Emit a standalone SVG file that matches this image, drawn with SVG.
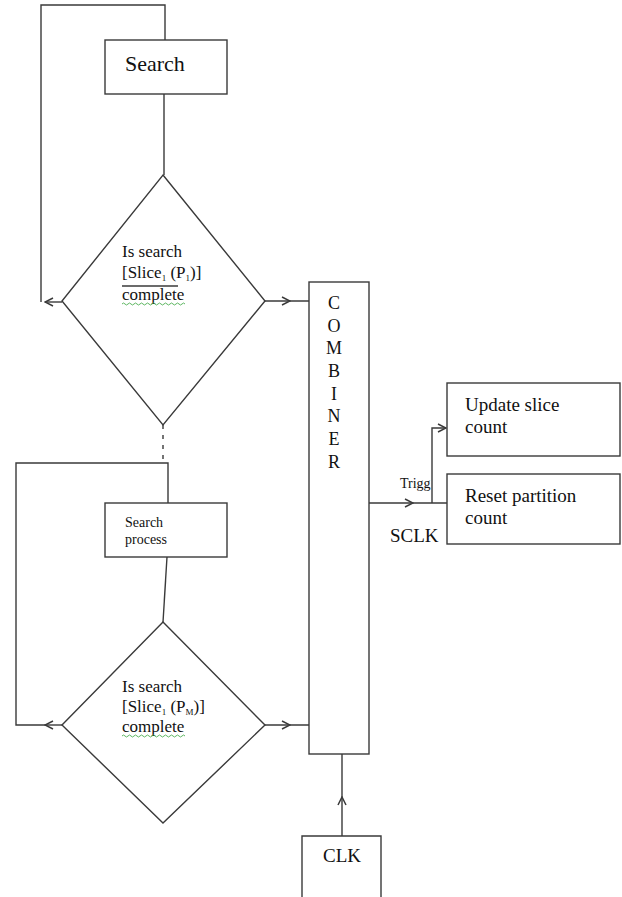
<svg xmlns="http://www.w3.org/2000/svg" width="622" height="897" viewBox="0 0 622 897">
<defs>
<style>
.ln{fill:none;stroke:#3a3a3a;stroke-width:1.4}
.box{fill:#fff;stroke:#3a3a3a;stroke-width:1.4}
.t{font-family:"Liberation Serif","Times New Roman",serif;fill:#111}
.sub{font-size:9px}
.wave{fill:none;stroke:#4caf50;stroke-width:0.9}
</style>
<marker id="ah" viewBox="0 0 10 10" refX="9" refY="5" markerWidth="10" markerHeight="10" markerUnits="userSpaceOnUse" orient="auto">
<path d="M1,1 L9,5 L1,9" fill="none" stroke="#3a3a3a" stroke-width="1.5"/>
</marker>
</defs>
<rect width="622" height="897" fill="#fff"/>

<g id="connectors">
<!-- top loop -->
<path class="ln" d="M41,302 L41,5 L165,5 L165,40"/>
<path class="ln" d="M164,94 L164,175"/>
<path class="ln" d="M62,302 L45,302" marker-end="url(#ah)"/>
<path class="ln" d="M265,301 L290,301 L309,301" marker-mid="url(#ah)"/>
<!-- dashed link -->
<path class="ln" d="M163,425 L163,463" stroke-dasharray="4,6"/>
<!-- second loop -->
<path class="ln" d="M168,503 L168,463 L16,463 L16,725 L47,725"/>
<path class="ln" d="M62,725 L45,725" marker-end="url(#ah)"/>
<path class="ln" d="M167,557 L163,622"/>
<path class="ln" d="M265,725 L290,725 L309,725" marker-mid="url(#ah)"/>
<!-- output -->
<path class="ln" d="M369,503 L413,503 L447,503" marker-mid="url(#ah)"/>
<path class="ln" d="M432,503 L432,428 L446,428" marker-end="url(#ah)"/>
<!-- clock -->
<path class="ln" d="M342,836 L342,797 L342,754" marker-mid="url(#ah)"/>
</g>

<g id="search">
<rect class="box" x="105" y="40" width="122" height="54"/>
<text class="t" x="125" y="71" font-size="22">Search</text>
</g>

<g id="decision1">
<polygon class="box" points="163,175 265,301 163,425 62,301"/>
<text class="t" x="122" y="257" font-size="17">Is search</text>
<text class="t" x="122" y="278" font-size="17">[Slice<tspan class="sub" dy="3">1</tspan><tspan dy="-3"> (P</tspan><tspan class="sub" dy="3">1</tspan><tspan dy="-3">)]</tspan></text>
<path class="ln" d="M122,286 L178,286" stroke-width="1.2"/>
<text class="t" x="122" y="300" font-size="17">complete</text>
<path class="wave" d="M122,304 q1.5,-2 3,0 t3,0 t3,0 t3,0 t3,0 t3,0 t3,0 t3,0 t3,0 t3,0 t3,0 t3,0 t3,0 t3,0 t3,0 t3,0 t3,0 t3,0 t3,0 t3,0 t3,0"/>
</g>

<g id="search-process">
<rect class="box" x="105" y="503" width="122" height="54"/>
<text class="t" x="125" y="527" font-size="14">Search</text>
<text class="t" x="125" y="544" font-size="14">process</text>
</g>

<g id="decision2">
<polygon class="box" points="163,622 265,725 163,823 62,725"/>
<text class="t" x="122" y="692" font-size="17">Is search</text>
<text class="t" x="122" y="712" font-size="17">[Slice<tspan class="sub" dy="3">1</tspan><tspan dy="-3"> (P</tspan><tspan class="sub" dy="3">M</tspan><tspan dy="-3">)]</tspan></text>
<text class="t" x="122" y="732" font-size="17">complete</text>
<path class="wave" d="M122,736 q1.5,-2 3,0 t3,0 t3,0 t3,0 t3,0 t3,0 t3,0 t3,0 t3,0 t3,0 t3,0 t3,0 t3,0 t3,0 t3,0 t3,0 t3,0 t3,0 t3,0 t3,0 t3,0"/>
</g>

<g id="combiner">
<rect class="box" x="309" y="282" width="60" height="472"/>
<g class="t" font-size="18" text-anchor="middle">
<text x="334" y="309">C</text>
<text x="334" y="332">O</text>
<text x="334" y="354">M</text>
<text x="334" y="377">B</text>
<text x="334" y="400">I</text>
<text x="334" y="422">N</text>
<text x="334" y="445">E</text>
<text x="334" y="468">R</text>
</g>
</g>

<g id="update-slice">
<rect class="box" x="447" y="383" width="173" height="73"/>
<text class="t" x="465" y="411" font-size="19">Update slice</text>
<text class="t" x="465" y="433" font-size="19">count</text>
</g>

<g id="reset-partition">
<rect class="box" x="447" y="474" width="173" height="70"/>
<text class="t" x="465" y="502" font-size="19">Reset partition</text>
<text class="t" x="465" y="524" font-size="19">count</text>
</g>

<g id="labels">
<text class="t" x="400" y="488" font-size="14">Trigg</text>
<text class="t" x="390" y="542" font-size="19">SCLK</text>
</g>

<g id="clk">
<path class="box" d="M302,897 L302,836 L381,836 L381,897"/>
<text class="t" x="342" y="862" font-size="19" text-anchor="middle">CLK</text>
</g>
</svg>
